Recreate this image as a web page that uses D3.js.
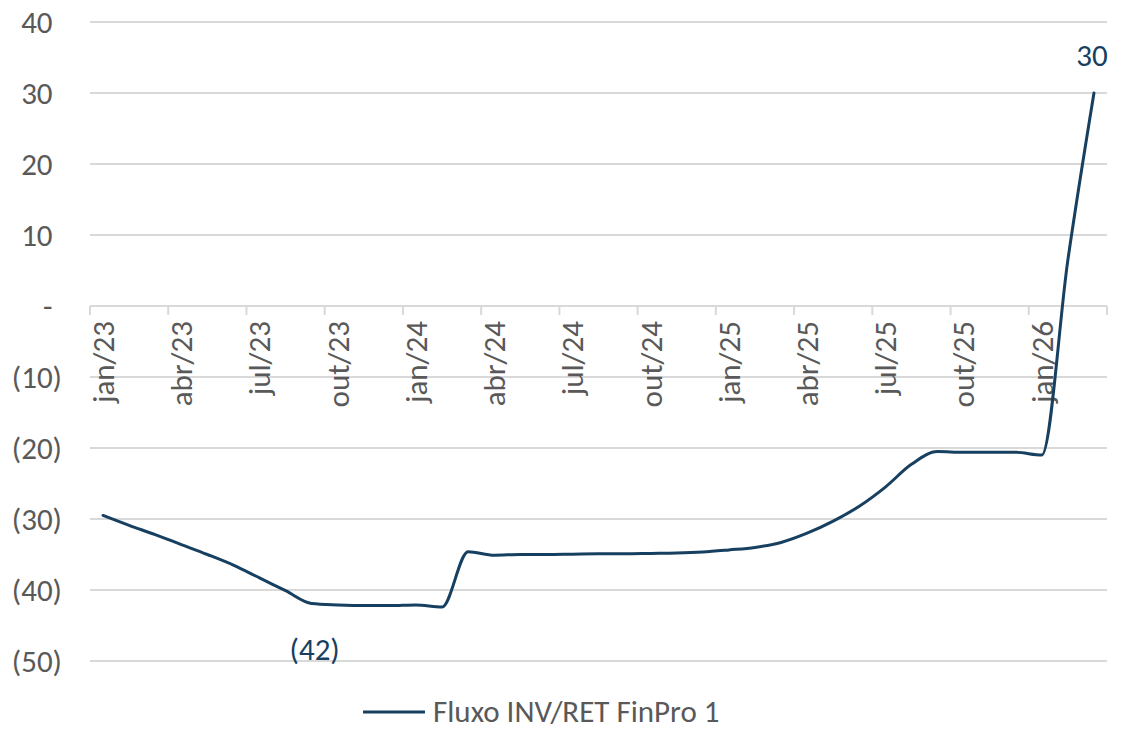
<!DOCTYPE html>
<html>
<head>
<meta charset="utf-8">
<script src="https://cdn.jsdelivr.net/npm/d3@7/dist/d3.min.js"></script>
<style>
  html, body { margin: 0; padding: 0; background: #ffffff; }
  svg { display: block; }
  text { font-family: Carlito, Calibri, Lato, "Noto Sans", sans-serif; }
</style>
</head>
<body>
<svg id="chart" width="1121" height="729"></svg>
<script>
// Monthly categories (jan/23 .. mar/26)
const months = [
  "jan/23","fev/23","mar/23","abr/23","mai/23","jun/23","jul/23","ago/23","set/23","out/23","nov/23","dez/23",
  "jan/24","fev/24","mar/24","abr/24","mai/24","jun/24","jul/24","ago/24","set/24","out/24","nov/24","dez/24",
  "jan/25","fev/25","mar/25","abr/25","mai/25","jun/25","jul/25","ago/25","set/25","out/25","nov/25","dez/25",
  "jan/26","fev/26","mar/26"
];

// Fluxo INV/RET FinPro 1 (monthly values)
const fluxo = [
  -29.5, -30.9, -32.2, -33.6, -35.0, -36.5, -38.3, -40.1, -41.9, -42.1, -42.2, -42.2,
  -42.1, -42.4, -34.6, -35.1, -35.0, -35.0, -34.95, -34.9, -34.9, -34.85, -34.8, -34.65,
  -34.35, -34.0, -33.3, -32.0, -30.3, -28.2, -25.5, -22.3, -20.5, -20.6, -20.6, -20.6,
  -21.0, 6.5, 30.0
];

// Axis ticks
const yTicks = [40, 30, 20, 10, 0, -10, -20, -30, -40, -50];
const xLabels = ["jan/23","abr/23","jul/23","out/23","jan/24","abr/24","jul/24","out/24","jan/25","abr/25","jul/25","out/25","jan/26"];

// Labelled points
const labelled = ["set/23", "mar/26"];

const seriesName = "Fluxo INV/RET FinPro 1";

const lineColor = "#173f5f";
const gridColor = "#d9d9d9";
const textColor = "#595959";
const fontSize = 31;

const svg = d3.select("#chart");

const x = d3.scaleBand().domain(months).range([90, 1107]).paddingInner(0).paddingOuter(0);
const y = d3.scaleLinear().domain([-50, 40]).range([661, 22]);
const cx = m => x(m) + x.bandwidth() / 2;

const fmt = v => v < 0 ? "(" + d3.format(".0f")(-v) + ")" : (v === 0 ? "-" : d3.format(".0f")(v));

// Horizontal gridlines
svg.append("g").selectAll("line")
  .data(yTicks.filter(v => v !== 0))
  .join("line")
  .attr("x1", x.range()[0]).attr("x2", x.range()[1])
  .attr("y1", d => y(d)).attr("y2", d => y(d))
  .attr("stroke", gridColor).attr("stroke-width", 2);

// Category axis along zero
const axisY = y(0);
const xAxis = svg.append("g");
xAxis.append("line")
  .attr("x1", x.range()[0]).attr("x2", x.range()[1])
  .attr("y1", axisY).attr("y2", axisY)
  .attr("stroke", gridColor).attr("stroke-width", 2);

const tickPos = xLabels.map(m => x(m)).concat([x.range()[1]]);
xAxis.selectAll("line.tick")
  .data(tickPos)
  .join("line")
  .attr("class", "tick")
  .attr("x1", d => d).attr("x2", d => d)
  .attr("y1", axisY).attr("y2", axisY + 9)
  .attr("stroke", gridColor).attr("stroke-width", 2);

xAxis.selectAll("text")
  .data(xLabels)
  .join("text")
  .attr("transform", d => `translate(${cx(d)},${axisY + 15}) rotate(-90)`)
  .attr("text-anchor", "end")
  .attr("dy", "0.35em")
  .attr("fill", textColor)
  .attr("font-size", fontSize)
  .text(d => d);

// Value axis labels, positives padded by the width of ")"
const probe = svg.append("text").attr("font-size", fontSize).text(")");
const parenW = probe.node().getComputedTextLength();
probe.remove();

svg.append("g").selectAll("text")
  .data(yTicks)
  .join("text")
  .attr("x", d => d < 0 ? 62 : 62 - parenW)
  .attr("y", d => y(d))
  .attr("dy", "0.35em")
  .attr("text-anchor", "end")
  .attr("fill", textColor)
  .attr("font-size", fontSize)
  .text(d => fmt(d));

// Series line
const data = months.map((m, i) => ({ m, v: fluxo[i] }));
const line = d3.line()
  .x(d => cx(d.m))
  .y(d => y(d.v))
  .curve(d3.curveMonotoneX);

svg.append("path")
  .datum(data)
  .attr("d", line)
  .attr("fill", "none")
  .attr("stroke", lineColor)
  .attr("stroke-width", 3)
  .attr("stroke-linejoin", "round")
  .attr("stroke-linecap", "round");

// Data labels: minimum below, last point above
const labelOffsets = { "set/23": [3, 46], "mar/26": [-2, -38] };
svg.append("g").selectAll("text")
  .data(data.filter(d => labelled.includes(d.m)))
  .join("text")
  .attr("x", d => cx(d.m) + labelOffsets[d.m][0])
  .attr("y", d => y(d.v) + labelOffsets[d.m][1])
  .attr("dy", "0.35em")
  .attr("text-anchor", "middle")
  .attr("fill", lineColor)
  .attr("font-size", fontSize)
  .text(d => fmt(Math.round(d.v)));

// Legend
const legend = svg.append("g").attr("transform", "translate(363,712)");
legend.append("line")
  .attr("x1", 0).attr("x2", 62)
  .attr("y1", 0).attr("y2", 0)
  .attr("stroke", lineColor).attr("stroke-width", 3);
legend.append("text")
  .attr("x", 70).attr("y", -1).attr("dy", "0.35em")
  .attr("fill", textColor)
  .attr("font-size", fontSize)
  .text(seriesName);
</script>
</body>
</html>
